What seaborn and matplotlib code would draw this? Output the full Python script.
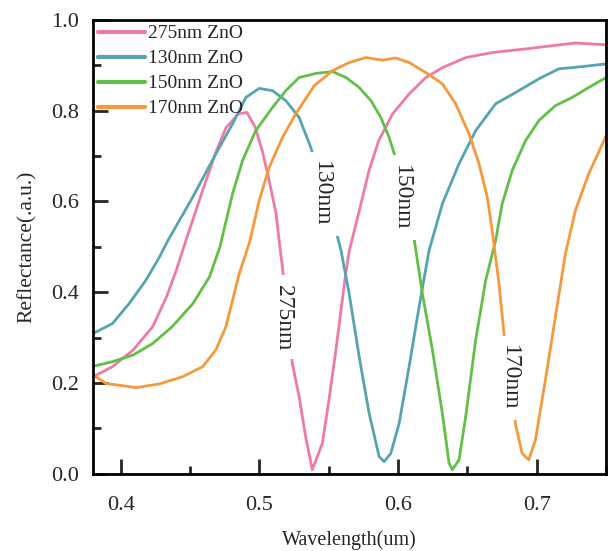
import numpy as np
import pandas as pd
import matplotlib
matplotlib.use('Agg')
import matplotlib.pyplot as plt
import seaborn as sns
from matplotlib.ticker import MultipleLocator

# --- data (wavelength in um, reflectance in a.u.) ---
films = ['275nm ZnO', '130nm ZnO', '150nm ZnO', '170nm ZnO']
colors = ['#EE7BA6', '#56A5AE', '#62C048', '#F59A3C']

wl_275 = [0.38, 0.394, 0.409, 0.423, 0.433, 0.440, 0.447, 0.459, 0.469, 0.476,
          0.485, 0.491, 0.497, 0.502, 0.507, 0.512, 0.5142, 0.517, 0.5237,
          0.5286, 0.5333, 0.5381, 0.5453, 0.55, 0.555, 0.562, 0.5647, 0.572,
          0.579, 0.586, 0.596, 0.608, 0.620, 0.632, 0.649, 0.668, 0.692, 0.711,
          0.728, 0.75]
r_275 = [0.214, 0.236, 0.273, 0.324, 0.390, 0.448, 0.514, 0.624, 0.712, 0.763,
         0.793, 0.796, 0.763, 0.712, 0.646, 0.573, 0.514, 0.444, 0.243,
         0.170, 0.082, 0.009, 0.067, 0.16, 0.27, 0.437, 0.49, 0.58,
         0.668, 0.734, 0.793, 0.837, 0.873, 0.895, 0.917, 0.928, 0.936, 0.943,
         0.949, 0.945]

wl_130 = [0.38, 0.394, 0.406, 0.418, 0.428, 0.434, 0.4518, 0.4686, 0.4806,
          0.4902, 0.4998, 0.5094, 0.519, 0.5286, 0.537, 0.5563, 0.5588, 0.5647,
          0.5719, 0.5791, 0.5863, 0.5899, 0.5947, 0.6007, 0.6079, 0.6151,
          0.6223, 0.6319, 0.6439, 0.6559, 0.6703, 0.6847, 0.7014, 0.7158,
          0.7326, 0.75]
r_130 = [0.309, 0.331, 0.375, 0.426, 0.478, 0.514, 0.609, 0.705, 0.771,
         0.829, 0.849, 0.844, 0.822, 0.785, 0.719, 0.522, 0.492, 0.397,
         0.258, 0.133, 0.038, 0.027, 0.045, 0.111, 0.236, 0.368,
         0.492, 0.595, 0.683, 0.756, 0.815, 0.840, 0.870, 0.892,
         0.897, 0.903]

wl_150 = [0.38, 0.394, 0.409, 0.423, 0.437, 0.452, 0.464, 0.4715, 0.4806,
          0.4878, 0.4973, 0.5094, 0.519, 0.5286, 0.5408, 0.5527, 0.5624, 0.5719,
          0.5804, 0.5875, 0.5935, 0.5983, 0.6115, 0.6175, 0.6247, 0.6319,
          0.6367, 0.6391, 0.6439, 0.6487, 0.6559, 0.6631, 0.6703, 0.675,
          0.6822, 0.6919, 0.7014, 0.7134, 0.7254, 0.7374, 0.75]
r_150 = [0.237, 0.247, 0.262, 0.287, 0.324, 0.375, 0.434, 0.50, 0.617,
         0.690, 0.756, 0.807, 0.844, 0.873, 0.882, 0.886, 0.873, 0.851,
         0.822, 0.785, 0.741, 0.694, 0.518, 0.397, 0.273, 0.133,
         0.024, 0.009, 0.031, 0.126, 0.295, 0.426, 0.514, 0.595,
         0.668, 0.734, 0.778, 0.811, 0.829, 0.851, 0.873]

wl_170 = [0.38, 0.3894, 0.411, 0.4278, 0.4446, 0.459, 0.4686, 0.4758, 0.4806,
          0.4854, 0.4902, 0.4932, 0.4998, 0.507, 0.5166, 0.5262, 0.5395, 0.5527,
          0.5647, 0.5768, 0.5887, 0.5983, 0.6079, 0.6199, 0.6319, 0.6415,
          0.6511, 0.6583, 0.6643, 0.6678, 0.6727, 0.6763, 0.6847, 0.6894,
          0.6942, 0.699, 0.7062, 0.7134, 0.7206, 0.7278, 0.7374, 0.75]
r_170 = [0.218, 0.199, 0.19, 0.198, 0.214, 0.236, 0.273, 0.324, 0.382,
         0.441, 0.485, 0.514, 0.602, 0.675, 0.741, 0.793, 0.855, 0.888,
         0.906, 0.917, 0.911, 0.916, 0.906, 0.884, 0.859, 0.815,
         0.749, 0.683, 0.609, 0.536, 0.419, 0.309, 0.108, 0.045,
         0.031, 0.075, 0.207, 0.346, 0.485, 0.580, 0.661, 0.745]

# in-plot curve labels: text, x, y
curve_labels = ['275nm', '130nm', '150nm', '170nm']
label_x = [0.5175, 0.5445, 0.6025, 0.6805]
label_y = [0.345, 0.617, 0.609, 0.211]

df = pd.concat([
    pd.DataFrame({'wavelength': wl_275, 'reflectance': r_275, 'film': films[0]}),
    pd.DataFrame({'wavelength': wl_130, 'reflectance': r_130, 'film': films[1]}),
    pd.DataFrame({'wavelength': wl_150, 'reflectance': r_150, 'film': films[2]}),
    pd.DataFrame({'wavelength': wl_170, 'reflectance': r_170, 'film': films[3]}),
], ignore_index=True)

sns.set_style('ticks')
plt.rcParams['font.family'] = ['Liberation Serif', 'DejaVu Serif']

fig = plt.figure(figsize=(6.08, 5.51), dpi=100)
ax = fig.add_axes([0.153, 0.14, 0.844, 0.824])

sns.lineplot(data=df, x='wavelength', y='reflectance', hue='film',
             hue_order=films, palette=colors, linewidth=2.0, ax=ax)
for line in ax.get_lines():
    line.set_solid_joinstyle('round')
    line.set_solid_capstyle('round')

for txt, lx, ly in zip(curve_labels, label_x, label_y):
    ax.text(lx, ly, txt, rotation=-90, ha='center', va='center', fontsize=17,
            bbox=dict(boxstyle='square,pad=0.4', fc='white', ec='none'), zorder=5)

handles, labels = ax.get_legend_handles_labels()
leg = ax.legend(handles, labels, loc='upper left', frameon=False, fontsize=14,
                handlelength=2.4, handletextpad=0.2, labelspacing=0.38,
                borderpad=0.15, borderaxespad=0.1)
for line in leg.get_lines():
    line.set_linewidth(3.0)

ax.set_xlim(0.38, 0.75)
ax.set_ylim(0.0, 1.0)
ax.xaxis.set_major_locator(MultipleLocator(0.1))
ax.xaxis.set_minor_locator(MultipleLocator(0.05))
ax.yaxis.set_major_locator(MultipleLocator(0.2))
ax.yaxis.set_minor_locator(MultipleLocator(0.1))
ax.xaxis.set_major_formatter(plt.FuncFormatter(lambda v, _: f'{v:.1f}'))
ax.yaxis.set_major_formatter(plt.FuncFormatter(lambda v, _: f'{v:.1f}'))

ax.tick_params(which='major', direction='in', length=11, width=2, labelsize=16,
               top=False, right=False)
ax.tick_params(which='minor', direction='in', length=5.5, width=2,
               top=False, right=False)
ax.tick_params(axis='x', which='major', pad=16)
ax.tick_params(axis='y', which='major', pad=10)

for side in ['top', 'bottom', 'left', 'right']:
    ax.spines[side].set_visible(True)
    ax.spines[side].set_linewidth(2)
    ax.spines[side].set_color('black')

ax.set_xlabel('Wavelength(um)', fontsize=14.5, labelpad=11)
ax.set_ylabel('Reflectance(.a.u.)', fontsize=15.5, labelpad=10)

fig.savefig('out.png', dpi=100)
